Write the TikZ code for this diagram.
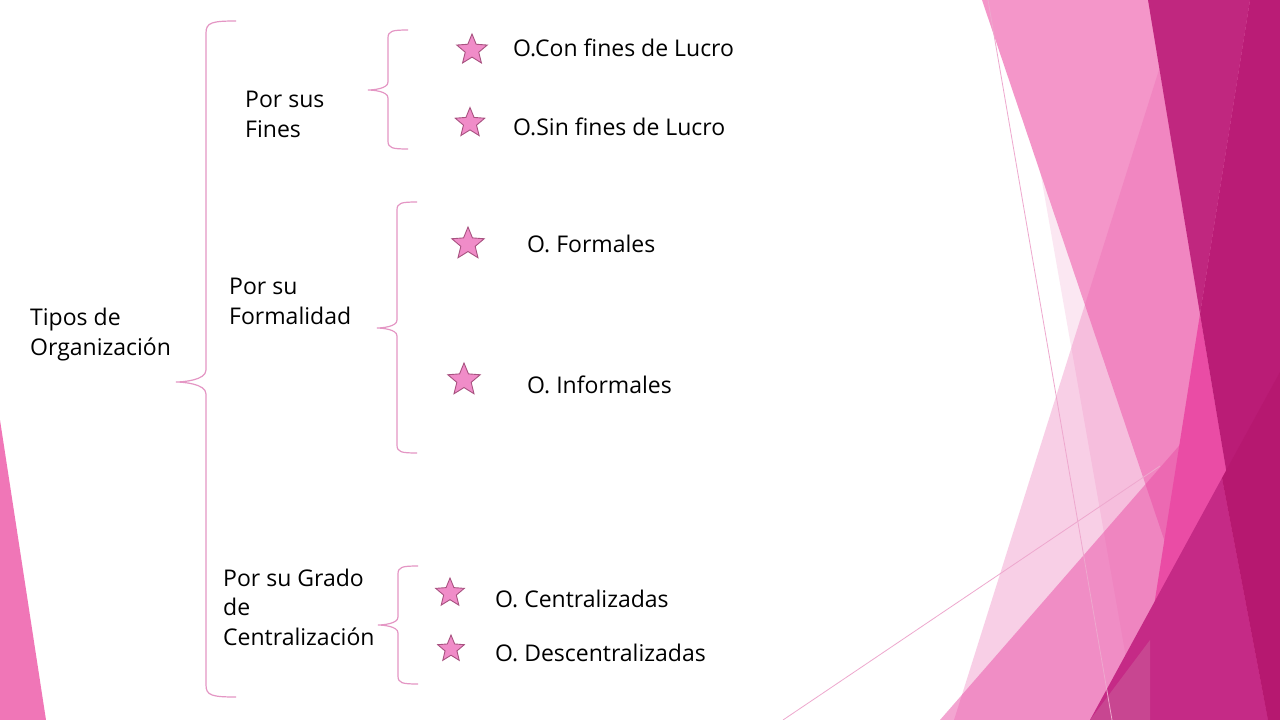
\documentclass[tikz,border=0pt]{standalone}
\usepackage{fontspec}
\setmainfont{Open Sans}
\usepackage{tikz}
\usetikzlibrary{shapes.geometric}

\definecolor{llavepink}{RGB}{228,150,196}
\definecolor{starfill}{RGB}{240,140,200}
\definecolor{stardraw}{RGB}{168,82,128}
\definecolor{fondoA}{RGB}{244,150,201}
\definecolor{fondoB}{RGB}{235,98,175}
\definecolor{fondoC}{RGB}{233,77,165}
\definecolor{fondoD}{RGB}{240,160,205}
\definecolor{hotpink}{RGB}{234,76,165}
\definecolor{magentaA}{RGB}{192,39,127}
\definecolor{magentaB}{RGB}{186,28,118}
\definecolor{magentaC}{RGB}{197,42,134}
\definecolor{magentaD}{RGB}{182,24,112}
\definecolor{magentaE}{RGB}{200,70,145}
\definecolor{esquina}{RGB}{240,118,183}
\definecolor{hilo}{RGB}{238,168,206}

% brace: x of stem, top y, tip y, bottom y, width
\newcommand{\llave}[5]{%
  \draw[llave] ({#1+#5},#2) .. controls ({#1+0.2*#5},#2) and (#1,{#2+0.05*#5}) .. (#1,{#2+0.4*#5})
    -- (#1,{#3-0.4*#5}) .. controls (#1,{#3-0.05*#5}) and ({#1-0.8*#5},#3) .. ({#1-#5},#3)
    .. controls ({#1-0.8*#5},#3) and (#1,{#3+0.05*#5}) .. (#1,{#3+0.4*#5})
    -- (#1,{#4-0.4*#5}) .. controls (#1,{#4-0.05*#5}) and ({#1+0.2*#5},#4) .. ({#1+#5},#4);}

\tikzset{
  texto/.style={anchor=base west, inner sep=0pt, align=left,
    font=\fontsize{23}{29.5}\selectfont},
  estrella/.style={star, star points=5, star point ratio=2.25, fill=starfill,
    draw=stardraw, line width=0.9pt, inner sep=0pt},
  llave/.style={draw=llavepink, line width=1.2pt},
}

\begin{document}
\begin{tikzpicture}[x=1pt,y=-1pt]
		\useasboundingbox (0,0) rectangle (1280,720);
		\fill[white] (0,0) rectangle (1280,720);
		%
		% background facets
		\fill[esquina] (0,420) -- (46,720) -- (0,720) -- cycle;
		\fill[fondoD,opacity=0.25] (1010,0) -- (1280,0) -- (1280,720) -- (1137,720) -- cycle;
		\fill[fondoA] (982,0) -- (1280,0) -- (1280,720) -- (1225,720) -- cycle;
		\fill[fondoB,opacity=0.3] (1181,0) -- (1280,0) -- (1280,720) -- (954,720) -- cycle;
		\fill[fondoC,opacity=0.5] (940,720) -- (1280,330) -- (1280,720) -- cycle;
		\fill[hotpink] (1200,314) -- (1268,720) -- (1136,720) -- cycle;
		\fill[magentaA] (1148,0) -- (1250,0) -- (1200,314) -- cycle;
		\fill[magentaB] (1250,0) -- (1280,0) -- (1280,720) -- (1268,720) -- (1200,314) -- cycle;
		\fill[magentaC] (1090,720) -- (1222,478) -- (1268,720) -- cycle;
		\fill[magentaD] (1222,478) -- (1280,372) -- (1280,720) -- (1268,720) -- cycle;
		\fill[magentaE] (1090,720) -- (1150,640) -- (1150,720) -- cycle;
		\draw[hilo,line width=0.8pt] (988,0) -- (1112,720);
		\draw[hilo,line width=0.8pt] (783,720) -- (1160,466);
		%
		% braces
		\llave{206}{21}{382}{697}{30}
		\llave{388}{30}{90}{149}{20}
		\llave{397}{202}{328}{453}{20}
		\llave{398}{566}{625}{684}{20}
		%
		% labels (base = last line)
		\node[texto] (tipos) at (30,355) {Tipos de\\Organización};
		\node[texto] (fines) at (245,137) {Por sus\\Fines};
		\node[texto] (formal) at (229,324) {Por su\\Formalidad};
		\node[texto] (grado) at (223,645) {Por su Grado\\de\\Centralización};
		%
		\node[texto] (conlucro) at (513,56) {O.Con fines de Lucro};
		\node[texto] (sinlucro) at (513,135) {O.Sin fines de Lucro};
		\node[texto] (formales) at (527,252) {O. Formales};
		\node[texto] (informales) at (527,393) {O. Informales};
		\node[texto] (central) at (495,607) {O. Centralizadas};
		\node[texto] (descentral) at (495,661) {O. Descentralizadas};
		%
		% stars
		\node[estrella,minimum size=32pt] (s1) at (472,50) {};
		\node[estrella,minimum size=31pt] (s2) at (470,123) {};
		\node[estrella,minimum size=34pt] (s3) at (468,244) {};
		\node[estrella,minimum size=34pt] (s4) at (464,380) {};
		\node[estrella,minimum size=30pt] (s5) at (450,593) {};
		\node[estrella,minimum size=28pt] (s6) at (451,649) {};
\end{tikzpicture}
\end{document}
